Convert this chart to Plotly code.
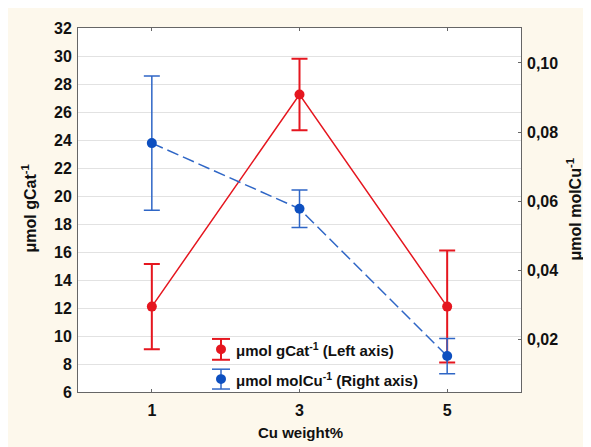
import plotly.graph_objects as go

cu_weight = [1, 3, 5]
gcat_values = [12.1, 27.25, 12.1]
gcat_err = [3.05, 2.55, 4.0]
molcu_values = [0.0768, 0.0578, 0.0152]
molcu_err = [0.0194, 0.0054, 0.0051]
left_ticks = list(range(6, 33, 2))
right_ticks = [0.02, 0.04, 0.06, 0.08, 0.10]
x_ticks = [1, 3, 5]

RED = "#e5161f"
BLUE_LINE = "#2f66c6"
BLUE_MARK = "#0d4fc0"
CREAM = "#fdf8ec"
FONT = "Liberation Sans"

# page offset (body margin) of the figure div
OFF = 8
FW, FH = 591 - OFF, 447 - OFF

fig = go.Figure()
fig.add_trace(go.Scatter(
    x=cu_weight, y=molcu_values, yaxis="y2", mode="lines+markers",
    line=dict(color=BLUE_LINE, width=1.5, dash="12px,5px"),
    marker=dict(color=BLUE_MARK, size=10),
    error_y=dict(type="data", array=molcu_err, color=BLUE_LINE, thickness=1.5, width=8),
    showlegend=False))
fig.add_trace(go.Scatter(
    x=cu_weight, y=gcat_values, mode="lines+markers",
    line=dict(color=RED, width=1.5),
    marker=dict(color=RED, size=10),
    error_y=dict(type="data", array=gcat_err, color=RED, thickness=2, width=8),
    showlegend=False))

# plot area geometry in page pixels
L, R, T, B = 78, 521, 25, 392
W, H = R - L, B - T
def px(xp):
    return (xp - L) / W
def py(yp):
    return (B - yp) / H

shapes = []
annotations = []

legend_items = [
    (RED, RED, 338.5, 359.5, 349, "μmol gCat<sup>-1</sup> (Left axis)", 2),
    (BLUE_LINE, BLUE_MARK, 369, 389, 379, "μmol molCu<sup>-1</sup> (Right axis)", 1.5),
]
cx = 221
for ecol, mcol, ytop, ybot, ymid, label, th in legend_items:
    shapes.append(dict(type="line", xref="paper", yref="paper", x0=px(cx), x1=px(cx),
                       y0=py(ytop), y1=py(ybot), line=dict(color=ecol, width=th)))
    for yy in (ytop, ybot):
        shapes.append(dict(type="line", xref="paper", yref="paper", x0=px(cx - 9), x1=px(cx + 9),
                           y0=py(yy), y1=py(yy), line=dict(color=ecol, width=th)))
    shapes.append(dict(type="circle", xref="paper", yref="paper", x0=px(cx - 5), x1=px(cx + 5),
                       y0=py(ymid + 5), y1=py(ymid - 5), fillcolor=mcol, line=dict(width=0)))
    annotations.append(dict(xref="paper", yref="paper", x=px(234), y=py(ymid), text=label,
                            showarrow=False, xanchor="left", yanchor="middle",
                            font=dict(family=FONT, size=15, color="#111", weight="bold")))

annotations += [
    dict(xref="paper", yref="paper", x=px(29), y=py(207), text="μmol gCat<sup>-1</sup>",
         textangle=-90, showarrow=False, xanchor="center", yanchor="middle",
         font=dict(family=FONT, size=16, color="#111", weight="bold")),
    dict(xref="paper", yref="paper", x=px(574), y=py(208), text="μmol molCu<sup>-1</sup>",
         textangle=-90, showarrow=False, xanchor="center", yanchor="middle",
         font=dict(family=FONT, size=16, color="#111", weight="bold")),
    dict(xref="paper", yref="paper", x=px(300), y=py(433), text="Cu weight%",
         showarrow=False, xanchor="center", yanchor="middle",
         font=dict(family=FONT, size=15, color="#111", weight="bold")),
]

tickfont = dict(family=FONT, size=16, color="#111", weight="bold")
fig.update_layout(
    width=FW, height=FH,
    margin=dict(l=L - OFF, r=591 - R, t=T - OFF, b=447 - B),
    paper_bgcolor=CREAM, plot_bgcolor="white",
    separators=",.",
    showlegend=False,
    xaxis=dict(range=[0, 6], tickvals=x_ticks, tickfont=tickfont, showgrid=False,
               showline=True, linecolor="#666", linewidth=1, mirror="ticks",
               ticks="inside", ticklen=3, tickcolor="#666", zeroline=False,
               ticklabelstandoff=4),
    yaxis=dict(range=[6, 32], tickvals=left_ticks, tickfont=tickfont, showgrid=True,
               gridcolor="#e2e2e2", gridwidth=1, showline=True, linecolor="#666",
               linewidth=1, mirror=True, ticks="", zeroline=False, ticklabelstandoff=2),
    yaxis2=dict(range=[0.0048, 0.1101], overlaying="y", side="right", tickvals=right_ticks,
                tickformat=".2f", tickfont=tickfont, showgrid=False, showline=False,
                ticks="inside", ticklen=3, tickcolor="#666", zeroline=False,
                ticklabelstandoff=5),
    shapes=shapes, annotations=annotations,
)

fig.write_html("out.html")
